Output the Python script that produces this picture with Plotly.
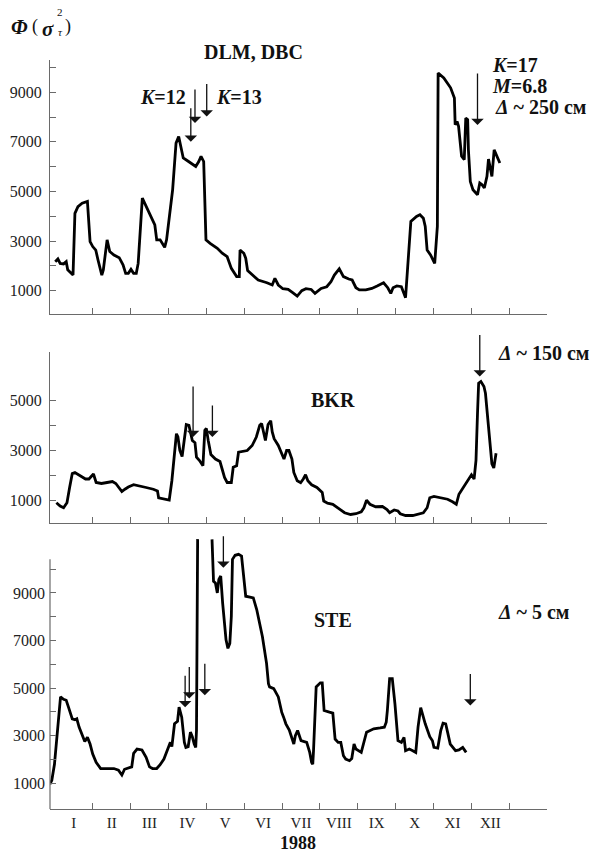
import plotly.graph_objects as go

# ---------------- data (x = months from 1 Jan 1988, y = Phi) ----------------
month_labels = ["I", "II", "III", "IV", "V", "VI", "VII", "VIII", "IX", "X", "XI", "XII"]
month_ticks = [1, 2, 3, 4, 5, 6, 7, 8, 9, 10, 11, 12]
month_label_pos = [0.5, 1.5, 2.5, 3.5, 4.5, 5.5, 6.5, 7.5, 8.5, 9.5, 10.5, 11.5]

dlm_month = [0.01, 0.08, 0.14, 0.23, 0.30, 0.34, 0.48, 0.53, 0.61, 0.72, 0.86, 0.93, 1.00, 1.08, 1.14,
             1.24, 1.28, 1.38, 1.45, 1.56, 1.70, 1.80, 1.87, 1.94, 2.01, 2.08, 2.15, 2.20, 2.31, 2.45,
             2.58, 2.64, 2.69, 2.78, 2.90, 2.95, 3.11, 3.20, 3.27, 3.33, 3.39, 3.53, 3.72, 3.80, 3.86,
             3.93, 3.99, 4.10, 4.29, 4.42, 4.55, 4.66, 4.80, 4.87, 4.89, 4.99, 5.04, 5.09, 5.22, 5.37,
             5.60, 5.74, 5.81, 5.90, 6.02, 6.16, 6.28, 6.40, 6.52, 6.63, 6.77, 6.87, 7.03, 7.18, 7.29,
             7.38, 7.51, 7.62, 7.76, 7.85, 7.95, 8.04, 8.21, 8.37, 8.51, 8.68, 8.79, 8.87, 8.93, 9.03,
             9.15, 9.22, 9.26, 9.40, 9.55, 9.64, 9.73, 9.78, 9.83, 9.92, 10.03, 10.10, 10.12, 10.27,
             10.45, 10.55, 10.57, 10.62, 10.66, 10.74, 10.81, 10.85, 10.90, 10.92, 10.97, 11.04,
             11.16, 11.22, 11.28, 11.34, 11.41, 11.45, 11.51, 11.54, 11.60, 11.66, 11.70, 11.75]
dlm_value = [2170, 2280, 2100, 2080, 2170, 1840, 1630, 4120, 4390, 4530, 4600, 2980, 2780, 2640, 2240,
             1630, 1840, 3050, 2580, 2440, 2330, 2040, 1700, 1700, 1860, 1700, 1700, 2100, 4730, 4260,
             3880, 3650, 3050, 3050, 2750, 3050, 5070, 6950, 7220, 6820, 6350, 6210, 6010, 6210, 6420,
             6210, 3050, 2910, 2710, 2510, 2370, 1900, 1570, 1570, 2640, 2510, 2310, 1810, 1630, 1430,
             1320, 1230, 1500, 1230, 1080, 1050, 920, 780, 1000, 1080, 1050, 890, 1090, 1160, 1360,
             1630, 1880, 1570, 1470, 1430, 1120, 1030, 1030, 1090, 1190, 1320, 1120, 890, 1120, 1190,
             1160, 890, 720, 3790, 3990, 4060, 3920, 3590, 2640, 2440, 2100, 3590, 9780, 9580,
             9180, 8770, 7690, 7830, 7630, 6420, 6280, 7960, 7900, 6680, 5400, 5070,
             4870, 5340, 5270, 5140, 5610, 6310, 5880, 5610, 6680, 6480, 6280, 6150]

bkr_month = [0.04, 0.14, 0.23, 0.32, 0.39, 0.46, 0.53, 0.67, 0.81, 0.90, 0.98, 1.02, 1.09, 1.23, 1.38,
             1.52, 1.61, 1.68, 1.77, 1.85, 1.94, 2.08, 2.22, 2.41, 2.60, 2.71, 2.74, 2.88, 3.02, 3.09,
             3.14, 3.21, 3.25, 3.30, 3.36, 3.42, 3.47, 3.54, 3.59, 3.63, 3.70, 3.74, 3.82, 3.91, 3.96,
             4.00, 4.05, 4.12, 4.24, 4.36, 4.43, 4.48, 4.55, 4.66, 4.71, 4.80, 4.85, 4.96, 5.08, 5.21,
             5.32, 5.41, 5.46, 5.51, 5.56, 5.63, 5.70, 5.74, 5.79, 5.90, 5.98, 6.05, 6.12, 6.18, 6.26,
             6.31, 6.40, 6.49, 6.56, 6.62, 6.68, 6.78, 6.92, 7.06, 7.10, 7.20, 7.34, 7.48, 7.65, 7.81,
             7.95, 8.09, 8.16, 8.23, 8.32, 8.47, 8.65, 8.77, 8.84, 8.96, 9.06, 9.12, 9.26, 9.45, 9.59,
             9.73, 9.83, 9.90, 10.01, 10.20, 10.37, 10.50, 10.60, 10.67, 10.81, 10.91, 11.00, 11.07,
             11.12, 11.16, 11.19, 11.25, 11.33, 11.37, 11.44, 11.50, 11.54, 11.59, 11.64, 11.65]
bkr_value = [890, 760, 690, 890, 1500, 2060, 2100, 1970, 1840, 1840, 1970, 2040, 1700, 1660, 1700,
             1740, 1660, 1500, 1340, 1430, 1520, 1610, 1570, 1500, 1430, 1360, 1090, 1050, 1000, 1770,
             2710, 3650, 3520, 2980, 2740, 3380, 4020, 3990, 3650, 3380, 3290, 2710, 2580, 2370, 3790,
             3860, 3380, 2820, 2640, 2540, 2170, 1900, 1700, 1700, 2310, 2370, 2910, 2950, 2980, 3180,
             3520, 3990, 4060, 3720, 3380, 4020, 4170, 3720, 3450, 3180, 2850, 2640, 2980, 2980, 2640,
             2100, 1770, 1690, 1840, 2010, 1770, 1610, 1500, 1300, 960, 870, 830, 690, 490, 420,
             450, 530, 690, 990, 830, 730, 740, 620, 490, 600, 560, 450, 380, 380, 420,
             490, 690, 1090, 1140, 1070, 1030, 930, 830, 1230, 1570, 1840, 2010, 1840,
             2580, 4460, 5670, 5740, 5540, 5270, 4060, 2850, 2440, 2280, 2780, 2870]

ste_month = [-0.13, -0.08, -0.01, 0.06, 0.11, 0.15, 0.23, 0.30, 0.36, 0.46, 0.53, 0.58, 0.64, 0.72,
             0.79, 0.86, 0.93, 1.00, 1.09, 1.21, 1.38, 1.56, 1.68, 1.77, 1.84, 1.96, 2.03, 2.08, 2.17,
             2.30, 2.41, 2.50, 2.58, 2.69, 2.78, 2.88, 2.97, 3.05, 3.09, 3.16, 3.24, 3.28, 3.35, 3.42,
             3.46, 3.52, 3.58, 3.63, 3.68, 3.72, 3.74, 3.77, None,
             4.15, 4.19, 4.24, 4.29, 4.33, 4.38, 4.43, 4.47, 4.52, 4.57, 4.62, 4.66, 4.69, 4.76, 4.85,
             4.93, 4.99, 5.04, 5.15, 5.24, 5.33, 5.48, 5.59, 5.64, 5.67, 5.78, 5.90, 5.99, 6.04, 6.10,
             6.19, 6.27, 6.31, 6.35, 6.41, 6.50, 6.59, 6.65, 6.73, 6.78, 6.81, 6.83, 6.90, 7.01, 7.06,
             7.11, 7.25, 7.34, 7.40, 7.48, 7.55, 7.62, 7.68, 7.78, 7.84, 7.90, 7.95, 8.09, 8.23, 8.42,
             8.59, 8.65, 8.70, 8.75, 8.78, 8.84, 8.91, 8.98, 9.06, 9.15, 9.22, 9.26, 9.36, 9.45, 9.53,
             9.59, 9.66, 9.78, 9.90, 9.97, 10.01, 10.11, 10.19, 10.25, 10.32, 10.37, 10.44, 10.58,
             10.67, 10.77, 10.86]
ste_value = [960, 1130, 1800, 3070, 4200, 4630, 4530, 4490, 4200, 3710, 3670, 3710, 3360, 3050,
             2760, 2930, 2650, 2230, 1880, 1620, 1620, 1620, 1550, 1350, 1590, 1660, 1690, 2260, 2440,
             2400, 2090, 1690, 1620, 1620, 1780, 2020, 2370, 2720, 2540, 3500, 3610, 4200, 3780, 2720,
             2510, 2540, 3150, 2960, 2650, 2510, 3220, 11260, None,
             11250, 9490, 9420, 9000, 9570, 9710, 8580, 8010, 7030, 6670, 6880, 8010, 10410, 10580, 10620,
             10550, 9710, 8860, 8820, 8790, 8300, 7170, 6040, 5190, 5050, 4980, 4630, 3990, 3780, 3500,
             3240, 2790, 2650, 3000, 3220, 2790, 2760, 2720, 2300, 1880, 1800, 2370, 5050, 5220, 5220,
             4060, 3990, 3950, 2860, 2720, 2720, 2160, 2020, 1950, 2040, 2650, 2440, 2300, 3150, 3290,
             3330, 3330, 3360, 3570, 4060, 5400, 5400, 4340, 2790, 2720, 2930, 2370, 2440, 2370, 2300,
             3360, 4180, 3500, 2960, 2790, 2510, 2480, 3220, 3530, 3500, 3150, 2650, 2370,
             2400, 2510, 2300, 2020, 1660]

# arrows: (month, value at arrow tip, arrow length in px)
dlm_arrow_month = [3.59, 3.70, 4.01, 11.16]
dlm_arrow_value = [7010, 7760, 8020, 7680]
dlm_arrow_len = [35, 35, 34, 53]
bkr_arrow_month = [3.65, 4.16, 11.22]
bkr_arrow_value = [3520, 3520, 5940]
bkr_arrow_len = [52, 33, 43]
ste_arrow_month = [3.44, 3.55, 3.96, 4.45, 10.97]
ste_arrow_value = [4200, 4560, 4700, 10060, 4270]
ste_arrow_len = [33, 33, 33, 33, 33]

# ---------------- layout helpers ----------------
W, H = 598, 852
L, R = 50, 51
PW = W - L - R
FONT = "Liberation Serif, Times New Roman, Tinos, DejaVu Serif, serif"
AX = "#6a6a6a"


def px_x(p):
    return (p - L) / PW


def px_y(p):
    return 1 - p / H


XRANGE = [-0.128, 12.995]
LW = 2.8

fig = go.Figure()
fig.add_trace(go.Scatter(x=dlm_month, y=dlm_value, xaxis="x3", yaxis="y3", mode="lines",
                         line=dict(color="black", width=LW), showlegend=False))
fig.add_trace(go.Scatter(x=bkr_month, y=bkr_value, xaxis="x2", yaxis="y2", mode="lines",
                         line=dict(color="black", width=LW), showlegend=False))
fig.add_trace(go.Scatter(x=ste_month, y=ste_value, xaxis="x", yaxis="y", mode="lines",
                         line=dict(color="black", width=LW), showlegend=False, connectgaps=False))


def xaxis_def(anchor, labels):
    d = dict(anchor=anchor, range=XRANGE, showline=True, linecolor=AX, linewidth=1.2,
             showgrid=False, zeroline=False, ticks="",
             minor=dict(tickvals=month_ticks, ticks="inside", ticklen=6, tickcolor=AX, tickwidth=1.2,
                        showgrid=False),
             domain=[0, 1])
    if labels:
        d.update(tickvals=month_label_pos, ticktext=month_labels, showticklabels=True,
                 tickfont=dict(family=FONT, size=15, color="#222"))
    else:
        d.update(showticklabels=False)
    return d


def yaxis_def(anchor, dom, rng, tvals, showline=True):
    ttext = [str(v) if (v // 1000) % 2 == 1 else "" for v in tvals]
    return dict(anchor=anchor, domain=dom, range=rng, showline=showline, linecolor=AX, linewidth=1.2,
                showgrid=False, zeroline=False, ticks="inside", ticklen=6, tickcolor=AX, tickwidth=1.2,
                tickvals=tvals, ticktext=ttext, ticklabelstandoff=4,
                tickfont=dict(family=FONT, size=16, color="#222"))


top_ticks = [1000, 2000, 3000, 4000, 5000, 6000, 7000, 8000, 9000, 10000]
mid_ticks = [1000, 2000, 3000, 4000, 5000]

fig.update_layout(
    width=W, height=H,
    margin=dict(l=L, r=R, t=0, b=0),
    paper_bgcolor="white", plot_bgcolor="white",
    font=dict(family=FONT),
    xaxis=xaxis_def("y", True),
    xaxis2=xaxis_def("y2", False),
    xaxis3=xaxis_def("y3", False),
    yaxis=yaxis_def("x", [px_y(809.3), px_y(536)], [-92, 11391], top_ticks, showline=False),
    yaxis2=yaxis_def("x2", [px_y(522.6), px_y(351.7)], [96, 6932], mid_ticks),
    yaxis3=yaxis_def("x3", [px_y(314), px_y(60)], [60.5, 10302], top_ticks),
)

# y-axis line of bottom panel (the STE curve runs above its end)
fig.add_shape(type="line", xref="paper", yref="y", x0=0, x1=0, y0=-92, y1=10412,
              line=dict(color=AX, width=1.2))

ann = []


def text(s, x, y, size=20, xanchor="center", yanchor="middle", bold=True):
    ann.append(dict(text=(f"<b>{s}</b>" if bold else s), x=px_x(x), y=px_y(y), xref="paper", yref="paper",
                    showarrow=False, xanchor=xanchor, yanchor=yanchor,
                    font=dict(family=FONT, size=size, color="#111")))


# y-axis title  Φ (σ_τ^2)
text("<i>Φ</i>", 19, 27, size=21)
text("(", 35, 27, size=18, bold=False)
text("<i>σ</i>", 48, 29, size=21)
text("2", 60, 12, size=11, bold=False)
text("<i>τ</i>", 60, 32, size=11, bold=False)
text(")", 68, 27, size=18, bold=False)

text("DLM, DBC", 253, 52, size=20)
text("<i>K</i>=12", 188, 97, size=20, xanchor="right")
text("<i>K</i>=13", 214, 97, size=20, xanchor="left")
text("<i>K</i>=17", 490, 65, size=20, xanchor="left")
text("<i>M</i>=6.8", 490, 86, size=20, xanchor="left")
text("<i>Δ</i> ~ 250 см", 493, 107, size=20, xanchor="left")
text("<i>Δ</i> ~ 150 см", 496, 353, size=20, xanchor="left")
text("BKR", 333, 400, size=20)
text("STE", 333, 620, size=20)
text("<i>Δ</i> ~ 5 см", 496, 612, size=20, xanchor="left")
text("1988", 298, 843, size=18)


def arrows(ms, vs, lens, xr, yr):
    for m, v, ln in zip(ms, vs, lens):
        ann.append(dict(x=m, y=v, xref=xr, yref=yr, ax=0, ay=-ln, showarrow=True, text="",
                        arrowhead=1, arrowsize=1.6, arrowwidth=1.3, arrowcolor="#111"))


arrows(dlm_arrow_month, dlm_arrow_value, dlm_arrow_len, "x3", "y3")
arrows(bkr_arrow_month, bkr_arrow_value, bkr_arrow_len, "x2", "y2")
arrows(ste_arrow_month, ste_arrow_value, ste_arrow_len, "x", "y")

fig.update_layout(annotations=ann)
fig.write_html("out.html")
